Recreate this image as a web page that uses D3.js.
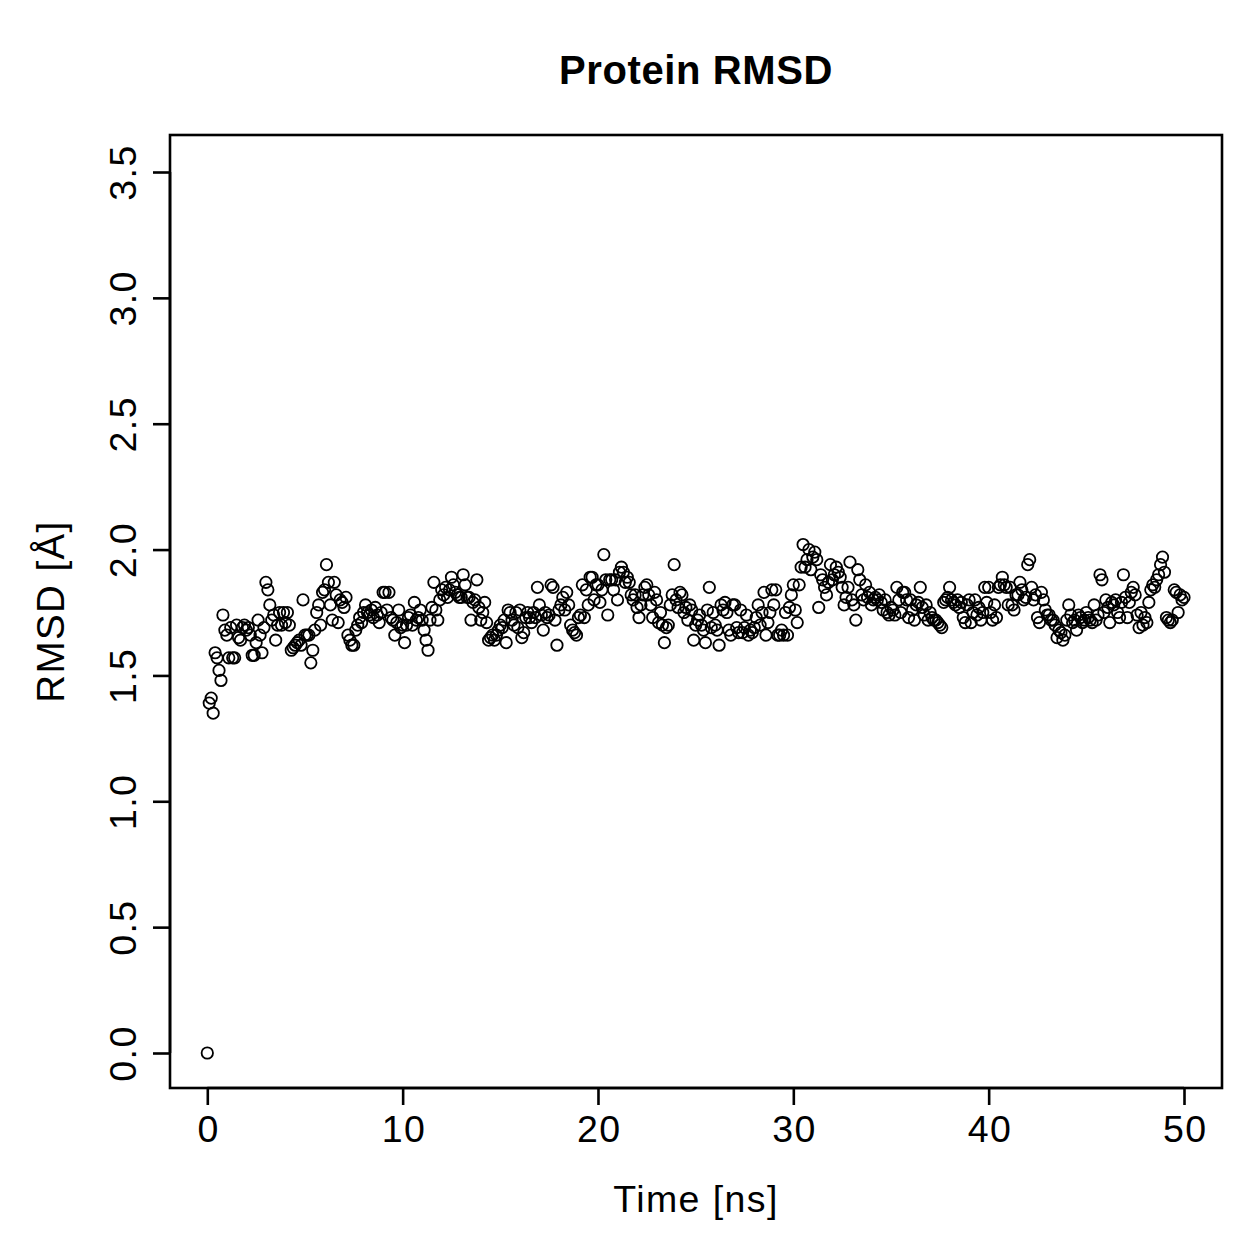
<!DOCTYPE html>
<html>
<head>
<meta charset="utf-8">
<script src="https://cdn.jsdelivr.net/npm/d3@7"></script>
<style>
  html, body { margin: 0; padding: 0; background: #fff; }
  svg { display: block; }
  text { font-family: "Liberation Sans", Arial, Helvetica, sans-serif; fill: #000; }
</style>
</head>
<body>
<svg id="chart" width="1259" height="1259"></svg>
<script>
const title = "Protein RMSD";
const xLabel = "Time [ns]";
const yLabel = "RMSD [Å]";
const timeStep = 0.1; // ns between frames
const xTicks = [0, 10, 20, 30, 40, 50];
const yTicks = [0.0, 0.5, 1.0, 1.5, 2.0, 2.5, 3.0, 3.5];
const rmsd = [
  0.00,
  1.39,1.41,1.35,1.59,1.57,1.52,1.48,1.74,1.68,
  1.66,1.57,1.69,1.57,1.57,1.70,1.65,1.64,1.69,1.70,
  1.68,1.69,1.66,1.58,1.58,1.63,1.72,1.66,1.59,1.69,
  1.87,1.84,1.78,1.72,1.74,1.64,1.70,1.75,1.70,1.75,
  1.71,1.75,1.70,1.60,1.61,1.62,1.63,1.64,1.62,1.80,1.66,
  1.66,1.66,1.55,1.60,1.68,1.75,1.78,1.70,1.83,1.84,
  1.94,1.87,1.78,1.72,1.87,1.82,1.71,1.80,1.79,1.77,
  1.81,1.66,1.64,1.62,1.62,1.68,1.70,1.73,1.71,1.75,
  1.78,1.75,1.74,1.76,1.73,1.77,1.74,1.71,1.75,1.83,1.83,
  1.76,1.83,1.73,1.72,1.66,1.71,1.76,1.69,1.70,1.63,
  1.70,1.73,1.74,1.70,1.79,1.72,1.73,1.76,1.72,1.68,
  1.64,1.60,1.72,1.77,1.87,1.76,1.72,1.80,1.84,1.82,
  1.85,1.81,1.84,1.89,1.86,1.83,1.82,1.81,1.81,1.90,1.86,
  1.81,1.81,1.72,1.79,1.80,1.88,1.77,1.72,1.75,1.79,
  1.71,1.64,1.65,1.66,1.64,1.66,1.68,1.70,1.69,1.72,
  1.63,1.76,1.75,1.72,1.70,1.75,1.69,1.76,1.65,1.67,1.73,
  1.75,1.73,1.71,1.75,1.73,1.85,1.78,1.74,1.68,1.75,
  1.73,1.74,1.86,1.85,1.72,1.62,1.76,1.78,1.81,1.76,
  1.83,1.78,1.70,1.68,1.67,1.66,1.73,1.74,1.86,1.73,1.84,
  1.78,1.89,1.89,1.80,1.86,1.86,1.79,1.84,1.98,1.88,
  1.74,1.88,1.88,1.84,1.88,1.80,1.91,1.93,1.91,1.87,
  1.89,1.87,1.82,1.80,1.82,1.77,1.73,1.78,1.82,1.85,1.86,
  1.82,1.78,1.73,1.83,1.80,1.71,1.75,1.70,1.63,1.69,
  1.70,1.78,1.82,1.94,1.80,1.77,1.83,1.82,1.75,1.77,
  1.72,1.78,1.76,1.64,1.70,1.72,1.74,1.70,1.68,1.63,1.76,
  1.85,1.69,1.75,1.70,1.68,1.62,1.78,1.76,1.79,1.75,
  1.68,1.66,1.78,1.78,1.69,1.67,1.76,1.67,1.69,1.74,
  1.66,1.68,1.67,1.69,1.73,1.78,1.70,1.75,1.83,1.66,1.71,
  1.75,1.84,1.78,1.84,1.66,1.66,1.68,1.66,1.75,1.66,
  1.77,1.82,1.86,1.76,1.71,1.86,1.93,2.02,1.93,1.96,
  2.00,1.92,1.97,1.99,1.96,1.77,1.90,1.88,1.85,
  1.82,1.87,1.94,1.88,1.90,1.93,1.91,1.89,1.85,1.78,1.81,
  1.85,1.95,1.80,1.78,1.72,1.92,1.88,1.82,1.80,1.86,
  1.81,1.83,1.78,1.80,1.81,1.80,1.82,1.79,1.76,1.80,
  1.75,1.74,1.77,1.76,1.74,1.85,1.80,1.75,1.83,1.83,1.80,
  1.73,1.80,1.76,1.72,1.78,1.79,1.85,1.77,1.74,1.78,
  1.72,1.75,1.73,1.72,1.72,1.71,1.70,1.69,1.79,1.80,
  1.81,1.85,1.80,1.79,1.78,1.80,1.77,1.79,1.73,1.71,1.78,
  1.80,1.71,1.75,1.80,1.74,1.77,1.72,1.75,1.85,1.79,
  1.85,1.75,1.72,1.78,1.73,1.85,1.86,1.89,1.86,1.85,
  1.78,1.85,1.78,1.76,1.82,1.82,1.87,1.84,1.80,1.81,1.94,
  1.96,1.85,1.80,1.82,1.73,1.71,1.83,1.80,1.76,1.74,
  1.74,1.72,1.72,1.70,1.65,1.68,1.67,1.64,1.66,1.72,
  1.78,1.74,1.71,1.72,1.68,1.74,1.73,1.71,1.72,1.75,
  1.73,1.72,1.71,1.78,1.72,1.74,1.90,1.88,1.75,1.80,1.77,
  1.71,1.79,1.78,1.80,1.75,1.73,1.79,1.90,1.81,1.73,
  1.79,1.83,1.85,1.82,1.74,1.69,1.75,1.70,1.73,1.71,
  1.79,1.84,1.86,1.85,1.88,1.90,1.94,1.97,1.91,1.73,1.72,
  1.71,1.72,1.84,1.83,1.75,1.82,1.80,1.81
];

const box = { left: 170, right: 1222, top: 135, bottom: 1088 };
const svg = d3.select("#chart");

const x = d3.scaleLinear().domain([0, 50]).range([207.3, 1184]);
const y = d3.scaleLinear().domain([0, 3.5]).range([1053, 172]);

const data = rmsd.map((v, i) => ({ t: +(i * timeStep).toFixed(1), v }));

const font = "'Liberation Sans', Arial, Helvetica, sans-serif";
const labelSize = 37.5, tickSize = 37.5, spacing = "1.4px";

// points
svg.append("g")
  .selectAll("circle")
  .data(data)
  .join("circle")
  .attr("cx", d => x(d.t))
  .attr("cy", d => y(d.v))
  .attr("r", 5.7)
  .attr("fill", "none")
  .attr("stroke", "#000")
  .attr("stroke-width", 1.8);

// box
svg.append("rect")
  .attr("x", box.left).attr("y", box.top)
  .attr("width", box.right - box.left).attr("height", box.bottom - box.top)
  .attr("fill", "none").attr("stroke", "#000").attr("stroke-width", 2.6);

// x axis
const xAxis = d3.axisBottom(x).tickValues(xTicks).tickSize(17).tickPadding(10)
  .tickFormat(d3.format("d"));
const gx = svg.append("g").attr("transform", `translate(0,${box.bottom})`).call(xAxis);
gx.select(".domain").attr("d", `M${x(0)},0H${x(50)}`).attr("stroke-width", 2.6);
gx.selectAll(".tick line").attr("stroke-width", 2.6);
gx.selectAll(".tick text").attr("font-size", tickSize)
  .attr("font-family", font).attr("fill", "#000")
  .style("letter-spacing", spacing)
  .attr("dx", "0.02em");

// y axis
const yAxis = d3.axisLeft(y).tickValues(yTicks).tickSize(17).tickPadding(0)
  .tickFormat(d3.format(".1f"));
const gy = svg.append("g").attr("transform", `translate(${box.left},0)`).call(yAxis);
gy.select(".domain").attr("d", `M0,${y(0)}V${y(3.5)}`).attr("stroke-width", 2.6);
gy.selectAll(".tick line").attr("stroke-width", 2.6);
gy.selectAll(".tick text")
  .attr("font-size", tickSize)
  .attr("font-family", font)
  .attr("fill", "#000")
  .style("letter-spacing", spacing)
  .attr("x", null).attr("dy", null)
  .attr("text-anchor", "middle")
  .attr("transform", "translate(-34,0) rotate(-90)");

// title
svg.append("text")
  .attr("x", (box.left + box.right) / 2).attr("y", 84)
  .attr("text-anchor", "middle")
  .attr("font-size", 40).attr("font-weight", "bold")
  .style("letter-spacing", "0.6px")
  .text(title);

// x label
svg.append("text")
  .attr("x", (box.left + box.right) / 2).attr("y", 1212)
  .attr("text-anchor", "middle")
  .attr("font-size", labelSize)
  .style("letter-spacing", spacing)
  .text(xLabel);

// y label
svg.append("text")
  .attr("transform", `translate(64,${(box.top + box.bottom) / 2}) rotate(-90)`)
  .attr("text-anchor", "middle")
  .attr("font-size", labelSize + 1)
  .style("letter-spacing", spacing)
  .text(yLabel);
</script>
</body>
</html>
